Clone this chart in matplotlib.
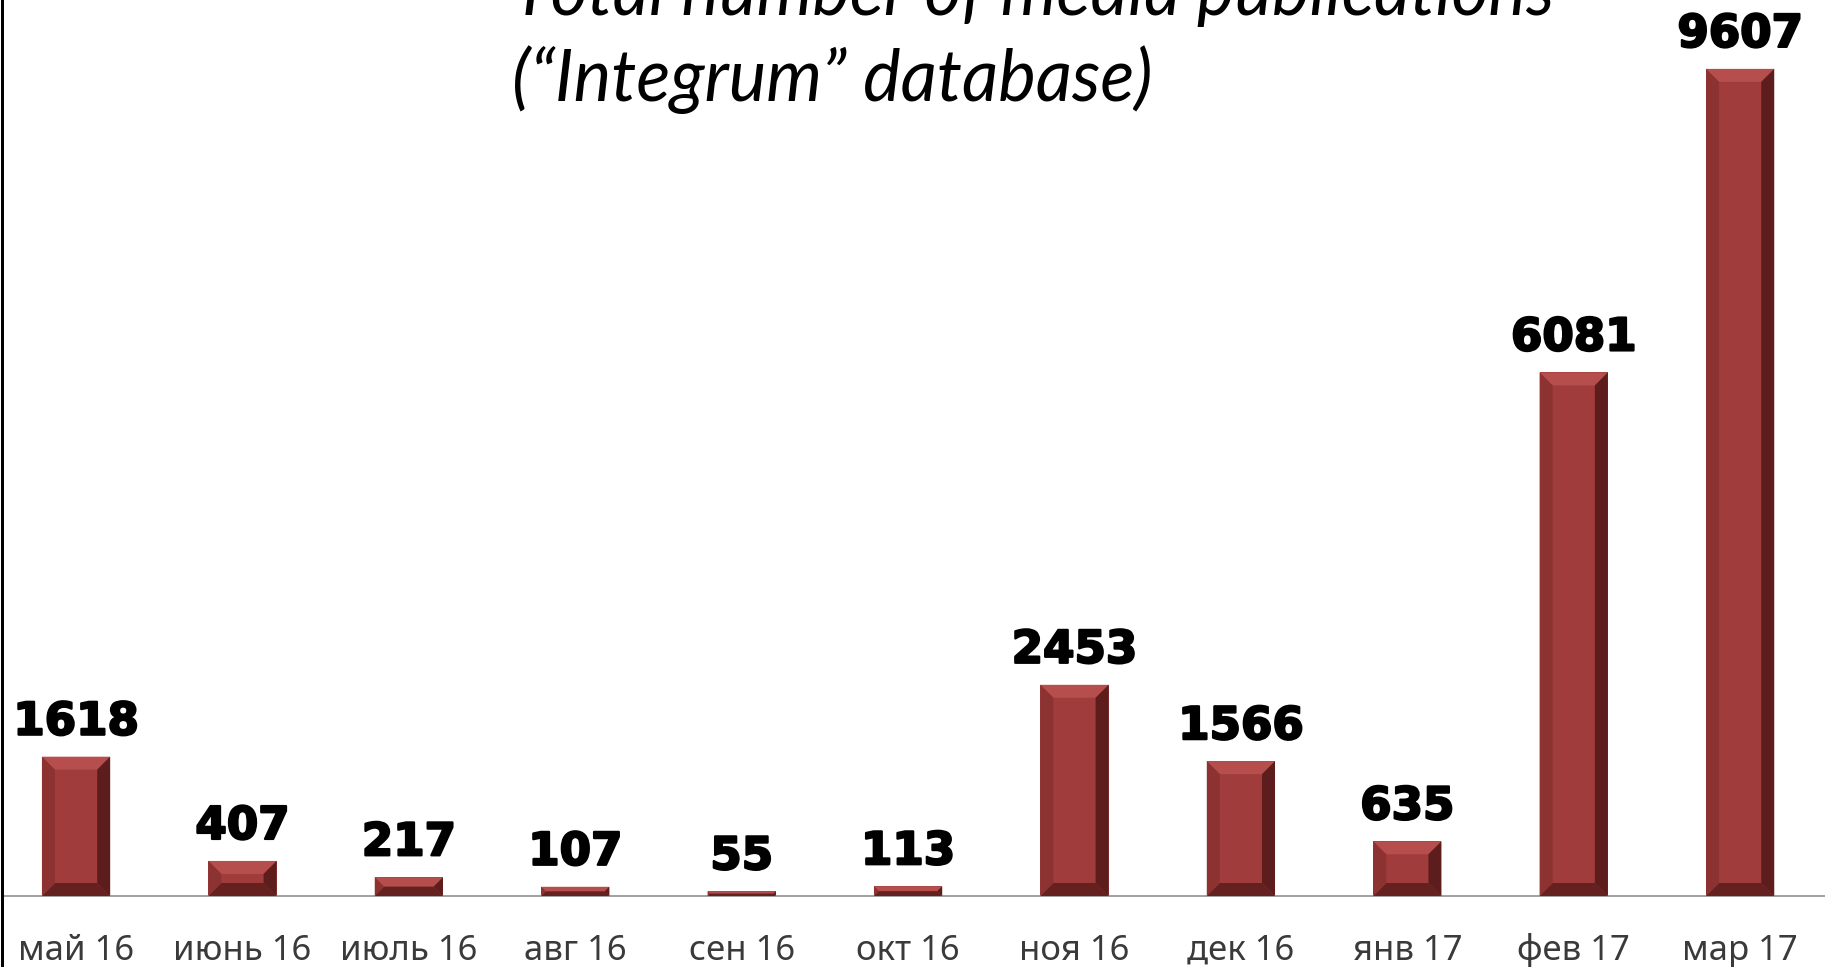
import matplotlib
matplotlib.use("Agg")
import matplotlib.pyplot as plt
from matplotlib.patches import Polygon
from matplotlib.lines import Line2D
import matplotlib.patheffects as pe

months = ["май 16", "июнь 16", "июль 16", "авг 16", "сен 16", "окт 16",
          "ноя 16", "дек 16", "янв 17", "фев 17", "мар 17"]
values = [1618, 407, 217, 107, 55, 113, 2453, 1566, 635, 6081, 9607]
title_lines = ["Total number of media publications", "(\u201cIntegrum\u201d database)"]

W, H, DPI = 1825, 967, 100
fig = plt.figure(figsize=(W / DPI, H / DPI), dpi=DPI)
fig.patch.set_facecolor("white")

ax = fig.add_axes([3 / W, 71 / H, 1822 / W, 896 / H])
ax.set_xlim(-0.439, 10.51)
ax.set_ylim(0, 10407)
for s in ["top", "right", "left"]:
    ax.spines[s].set_visible(False)
ax.spines["bottom"].set_color("#9a9a9a")
ax.spines["bottom"].set_linewidth(1.3)
ax.set_yticks([])
ax.set_xticks([])

face = "#a03c3b"
bars = ax.bar(range(len(values)), values, width=0.41, color=face, zorder=2)

# bevel decoration in pixel units
ax_w_px = 1822
ax_h_px = 896
xr = ax.get_xlim()[1] - ax.get_xlim()[0]
yr = ax.get_ylim()[1] - ax.get_ylim()[0]
px_x = xr / ax_w_px
px_y = yr / ax_h_px
bev = 13
for r in bars:
    x0 = r.get_x(); x1 = x0 + r.get_width()
    y0 = 0; y1 = r.get_height()
    hpx = y1 / px_y
    b = min(bev, hpx / 2)
    bx = b * px_x; by = b * px_y
    polys = [
        ([(x0, y1), (x1, y1), (x1 - bx, y1 - by), (x0 + bx, y1 - by)], "#b54e4d"),
        ([(x1, y1), (x1, y0), (x1 - bx, y0 + by), (x1 - bx, y1 - by)], "#5e1d1d"),
        ([(x0, y0), (x1, y0), (x1 - bx, y0 + by), (x0 + bx, y0 + by)], "#652120"),
        ([(x0, y0), (x0, y1), (x0 + bx, y1 - by), (x0 + bx, y0 + by)], "#8c3231"),
    ]
    for pts, c in polys:
        ax.add_patch(Polygon(pts, closed=True, facecolor=c, edgecolor="none", zorder=3))

# value labels
for i, v in enumerate(values):
    ax.annotate(f"{v}", xy=(i, v), xytext=(0, 22 * 72 / DPI), textcoords="offset points",
                ha="center", va="baseline", fontsize=32.5, fontweight="bold",
                family="DejaVu Sans", color="black", annotation_clip=False,
                path_effects=[pe.Stroke(linewidth=1.6, foreground="black"), pe.Normal()])

# category labels
for i, m in enumerate(months):
    ax.annotate(m, xy=(i, 0), xycoords=("data", "axes fraction"),
                xytext=(0, -64 * 72 / DPI), textcoords="offset points",
                ha="center", va="baseline", fontsize=25, family="Noto Sans",
                color="#3a3a3a", annotation_clip=False)

# title
fig.text(512 / W, 1 - 15 / H, title_lines[0], ha="left", va="baseline",
         fontsize=51, style="italic", family="Lato", color="black")
fig.text(512 / W, 1 - 101 / H, title_lines[1], ha="left", va="baseline",
         fontsize=51, style="italic", family="Lato", color="black")

# left black border
fig.add_artist(Line2D([1.5 / W, 1.5 / W], [0, 1], transform=fig.transFigure,
                      color="black", linewidth=3 * 72 / DPI))

fig.savefig("out.png", dpi=DPI, facecolor="white")
